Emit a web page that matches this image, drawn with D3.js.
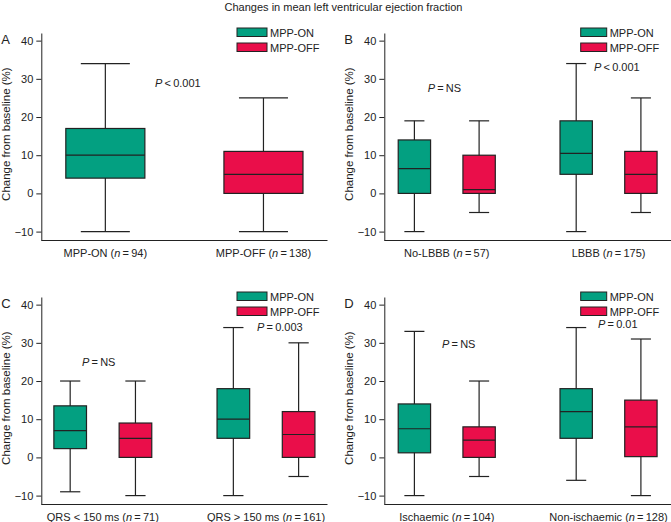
<!DOCTYPE html>
<html><head><meta charset="utf-8">
<script src="https://cdn.jsdelivr.net/npm/d3@7"></script>
<style>
body{margin:0;background:#fff;}
text{font-family:"Liberation Sans",Arial,Helvetica,sans-serif;fill:#222;}
</style></head>
<body><svg id="chart" width="671" height="522"></svg>
<script>
// ---------- data ----------
const title = "Changes in mean left ventricular ejection fraction";
const seriesNames = ["MPP-ON", "MPP-OFF"];
const yTicks = [-10, 0, 10, 20, 30, 40];

const groupsA = ["MPP-ON", "MPP-OFF"];
const nA = [94, 138];
// [min, q1, median, q3, max]
const statsA = [[-10, 4, 10, 17, 34], [-10, 0, 5, 11, 25]];
const pA = [["<", "0.001"]];

const groupsB = ["No-LBBB", "LBBB"];
const nB = [57, 175];
const statsBon = [[-10, 0, 6.5, 14, 19], [-10, 5, 10.5, 19, 34]];
const statsBoff = [[-5, 0, 1, 10, 19], [-5, 0, 5, 11, 25]];
const pB = [["=", "NS"], ["<", "0.001"]];

const groupsC = ["QRS < 150 ms", "QRS > 150 ms"];
const nC = [71, 161];
const statsCon = [[-9, 2.3, 7, 13.5, 20], [-10, 5, 10, 18, 34]];
const statsCoff = [[-10, 0, 5, 9, 20], [-5, 0, 6, 12, 30]];
const pC = [["=", "NS"], ["=", "0.003"]];

const groupsD = ["Ischaemic", "Non-ischaemic"];
const nD = [104, 128];
const statsDon = [[-10, 1.2, 7.5, 14, 33], [-6, 5, 12, 18, 34]];
const statsDoff = [[-5, 0, 4.5, 8, 20], [-10, 0.2, 8, 15, 31]];
const pD = [["=", "NS"], ["=", "0.01"]];

const colors = {"MPP-ON": "#03a081", "MPP-OFF": "#ea0e4a"};

// ---------- layout ----------
const svg = d3.select("#chart");
svg.append("text").attr("x", 343.5).attr("y", 10.5).attr("text-anchor", "middle")
  .style("font-size", "11px").text(title);

function boxesFrom(groups, onStats, offStats) {
  const out = [];
  groups.forEach((g, i) => {
    out.push({group: g, series: "MPP-ON", s: onStats[i]});
    out.push({group: g, series: "MPP-OFF", s: offStats[i]});
  });
  return out;
}

const panels = [
  {letter: "A", x0: 41.3, x1: 327.5, top: 0, groups: groupsA, ns: nA,
   boxes: groupsA.map((g, i) => ({group: g, series: seriesNames[i], s: statsA[i]})),
   single: true, gpi: 0.5, gpo: 0.155,
   pvals: pA, pPos: [[113.7, 27.8]], legW: 30, legX: 237},
  {letter: "B", x0: 384.3, x1: 671, top: 0, groups: groupsB, ns: nB,
   boxes: boxesFrom(groupsB, statsBon, statsBoff), single: false, gpi: 0.4, gpo: 0.086,
   pvals: pB, pPos: [[43.4, 26.5], [209.7, 32]], legW: 26, legX: 580.7},
  {letter: "C", x0: 41.3, x1: 327.5, top: 264, groups: groupsC, ns: nC,
   boxes: boxesFrom(groupsC, statsCon, statsCoff), single: false, gpi: 0.4, gpo: 0.077,
   pvals: pC, pPos: [[40.7, 23.9], [215.7, 33.1]], legW: 30, legX: 237},
  {letter: "D", x0: 384.3, x1: 671, top: 264, groups: groupsD, ns: nD,
   boxes: boxesFrom(groupsD, statsDon, statsDoff), single: false, gpi: 0.4, gpo: 0.086,
   pvals: pD, pPos: [[57.7, 28.6], [213.7, 33.9]], legW: 26, legX: 580.7}
];

panels.forEach(p => {
  const g = svg.append("g").attr("transform", `translate(0,${p.top})`);
  const axisY = 240;
  const y = d3.scaleLinear().domain([-12.2, 42]).range([axisY, 33]);
  const xg = d3.scaleBand().domain(p.groups).range([p.x0, p.x1])
    .paddingInner(p.gpi).paddingOuter(p.gpo);
  const xs = d3.scaleBand().domain(seriesNames).range([0, xg.bandwidth()])
    .paddingInner(0.5).paddingOuter(0);
  const boxX = d => p.single ? xg(d.group) : xg(d.group) + xs(d.series);
  const boxW = p.single ? xg.bandwidth() : xs.bandwidth();

  // y axis
  const ya = g.append("g").attr("transform", `translate(${p.x0},0)`)
    .call(d3.axisLeft(y).tickValues(yTicks).tickSize(5).tickSizeOuter(0).tickPadding(3)
      .tickFormat(d => d < 0 ? "\u2212" + Math.abs(d) : d));
  ya.select(".domain").attr("stroke", "#222");
  ya.selectAll(".tick line").attr("stroke", "#222");
  ya.selectAll(".tick text").style("font-size", "11px").attr("fill", "#222")
    .style("font-family", '"Liberation Sans",Arial,sans-serif');

  // x axis
  const xa = g.append("g").attr("transform", `translate(0,${axisY})`)
    .call(d3.axisBottom(xg).tickSize(0).tickSizeOuter(0).tickPadding(0));
  xa.select(".domain").attr("stroke", "#222").attr("d", `M${p.x0},0.5H${p.x1}`);
  xa.selectAll(".tick text").each(function(d, i) {
    const t = d3.select(this);
    t.text(null).attr("y", 17).attr("dy", null)
      .style("font-size", "11px").attr("fill", "#222")
      .style("font-family", '"Liberation Sans",Arial,sans-serif');
    t.append("tspan").text(d + " (");
    t.append("tspan").style("font-style", "italic").text("n");
    t.append("tspan").text("\u2009=\u2009" + p.ns[i] + ")");
  });

  // y label
  g.append("text").attr("transform", `translate(${p.x0 - 31},${(y(-10) + y(40)) / 2 - 2}) rotate(-90)`)
    .attr("text-anchor", "middle").style("font-size", "11.5px").text("Change from baseline (%)");

  // letter
  g.append("text").attr("x", p.x0 - 40).attr("y", 44).style("font-size", "13px").text(p.letter);

  // boxes
  const bg = g.selectAll("g.box").data(p.boxes).enter().append("g").attr("class", "box");
  bg.each(function(d) {
    const b = d3.select(this);
    const cx = boxX(d) + boxW / 2;
    const capW = boxW * 0.62;
    b.append("line").attr("x1", cx).attr("x2", cx).attr("y1", y(d.s[0])).attr("y2", y(d.s[4]))
      .attr("stroke", "#222").attr("stroke-width", 1.2);
    b.append("line").attr("x1", cx - capW / 2).attr("x2", cx + capW / 2)
      .attr("y1", y(d.s[4])).attr("y2", y(d.s[4])).attr("stroke", "#222").attr("stroke-width", 1.2);
    b.append("line").attr("x1", cx - capW / 2).attr("x2", cx + capW / 2)
      .attr("y1", y(d.s[0])).attr("y2", y(d.s[0])).attr("stroke", "#222").attr("stroke-width", 1.2);
    b.append("rect").attr("x", boxX(d)).attr("width", boxW)
      .attr("y", y(d.s[3])).attr("height", y(d.s[1]) - y(d.s[3]))
      .attr("fill", colors[d.series]).attr("stroke", "#222").attr("stroke-width", 1.2);
    b.append("line").attr("x1", boxX(d)).attr("x2", boxX(d) + boxW)
      .attr("y1", y(d.s[2])).attr("y2", y(d.s[2])).attr("stroke", "#222").attr("stroke-width", 1.2);
  });

  // p values
  p.pvals.forEach((pv, i) => {
    const t = g.append("text").attr("x", p.x0 + p.pPos[i][0]).attr("y", y(p.pPos[i][1]))
      .style("font-size", "11px");
    t.append("tspan").style("font-style", "italic").text("P");
    t.append("tspan").text("\u2009" + pv[0] + "\u2009" + pv[1]);
  });

  // legend
  seriesNames.forEach((s, i) => {
    const ly = 28 + i * 15;
    g.append("rect").attr("x", p.legX).attr("y", ly).attr("width", p.legW).attr("height", 8.5)
      .attr("fill", colors[s]).attr("stroke", "#222").attr("stroke-width", 1);
    g.append("text").attr("x", p.legX + p.legW + 3).attr("y", ly + 8.5)
      .style("font-size", "11px").text(s);
  });
});
</script></body></html>
